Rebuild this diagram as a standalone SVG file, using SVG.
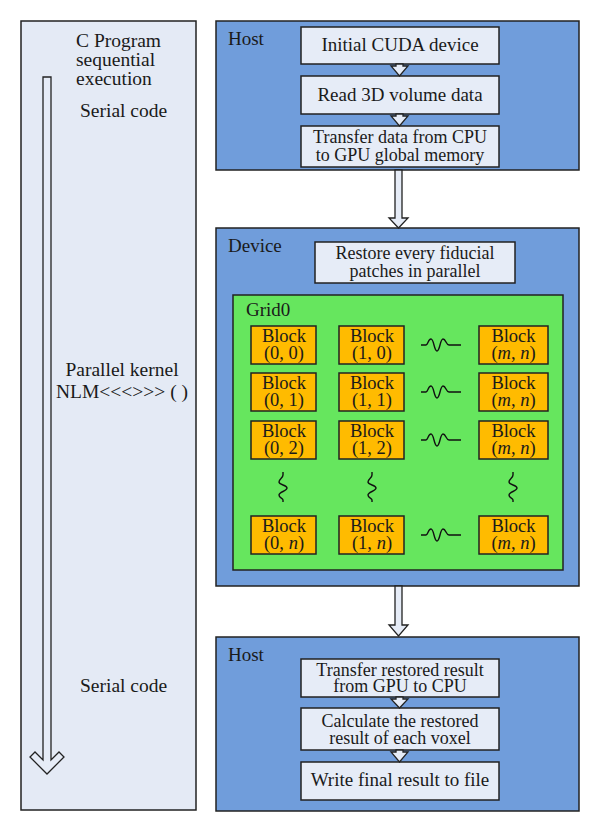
<svg xmlns="http://www.w3.org/2000/svg" width="600" height="832" viewBox="0 0 600 832" font-family="'Liberation Serif', 'DejaVu Serif', serif">
<style>
text{font-family:'Liberation Serif','DejaVu Serif',serif;font-size:19px;fill:#1a1a1a}
.c{text-anchor:middle}
.panel{fill:#e4eaf5;stroke:#222;stroke-width:1.5}
.blue{fill:#709ddb;stroke:#222;stroke-width:1.5}
.box{fill:#e6ecf7;stroke:#222;stroke-width:1.5}
.grid{fill:#66e65e;stroke:#222;stroke-width:1.5}
.blk{fill:#ffbb00;stroke:#222;stroke-width:1.5}
.arr{fill:#e6ecf7;stroke:#222;stroke-width:1.3;stroke-linejoin:miter}
.wave{fill:none;stroke:#111;stroke-width:1.4}
.bt{font-size:18.5px}
.t2{font-size:18px}
.lt{font-size:19.5px}
i{font-style:italic}
</style>
<rect width="600" height="832" fill="#ffffff"/>

<g id="left-panel">
<rect class="panel" x="21" y="21" width="175" height="789"/>
<polygon class="arr" points="43,77 51,77 51,760 59,752 64,757 47,774 30,757 35,752 43,760"/>
<text class="lt" x="76" y="46.5">C Program<tspan x="76" dy="19.5">sequential</tspan><tspan x="76" dy="19">execution</tspan></text>
<text class="lt" x="80" y="117">Serial code</text>
<text class="c lt" x="122" y="376">Parallel kernel<tspan x="122" dy="22">NLM&lt;&lt;&lt;&gt;&gt;&gt; ( )</tspan></text>
<text class="lt" x="80" y="692">Serial code</text>
</g>

<g id="host-top">
<rect class="blue" x="216" y="21" width="363" height="149"/>
<text x="228" y="45">Host</text>
</g>
<g id="initial-cuda">
<rect class="box" x="301" y="27" width="198" height="37"/>
<text class="c" x="400" y="51">Initial CUDA device</text>
</g>
<g id="read-3d">
<rect class="box" x="301" y="76" width="198" height="38"/>
<text class="c" x="400" y="101">Read 3D volume data</text>
</g>
<g id="transfer-cpu-gpu">
<rect class="box" x="301" y="126" width="198" height="41"/>
<text class="c t2" x="400" y="143">Transfer data from CPU<tspan x="400" dy="18">to GPU global memory</tspan></text>
</g>

<g id="device">
<rect class="blue" x="216" y="228" width="363" height="358"/>
<text x="228" y="252">Device</text>
</g>
<g id="restore">
<rect class="box" x="315" y="242" width="200" height="41"/>
<text class="c t2" x="415" y="259">Restore every fiducial<tspan x="415" dy="18">patches in parallel</tspan></text>
</g>
<g id="grid0">
<rect class="grid" x="233" y="295" width="330" height="275"/>
<text x="246" y="316">Grid0</text>
</g>

<g id="block-0-0"><rect class="blk" x="251" y="326" width="65" height="38"/><text class="c bt" x="284" y="342">Block<tspan x="284" dy="17">(0, 0)</tspan></text></g>
<g id="block-1-0"><rect class="blk" x="339" y="326" width="65" height="38"/><text class="c bt" x="372" y="342">Block<tspan x="372" dy="17">(1, 0)</tspan></text></g>
<g id="block-m-n-0"><rect class="blk" x="479" y="326" width="69" height="38"/><text class="c bt" x="513.5" y="342">Block<tspan x="513.5" dy="17">(<tspan font-style="italic">m</tspan>, <tspan font-style="italic">n</tspan>)</tspan></text></g>

<g id="block-0-1"><rect class="blk" x="251" y="373" width="65" height="38"/><text class="c bt" x="284" y="389">Block<tspan x="284" dy="17">(0, 1)</tspan></text></g>
<g id="block-1-1"><rect class="blk" x="339" y="373" width="65" height="38"/><text class="c bt" x="372" y="389">Block<tspan x="372" dy="17">(1, 1)</tspan></text></g>
<g id="block-m-n-1"><rect class="blk" x="479" y="373" width="69" height="38"/><text class="c bt" x="513.5" y="389">Block<tspan x="513.5" dy="17">(<tspan font-style="italic">m</tspan>, <tspan font-style="italic">n</tspan>)</tspan></text></g>

<g id="block-0-2"><rect class="blk" x="251" y="421" width="65" height="38"/><text class="c bt" x="284" y="437">Block<tspan x="284" dy="17">(0, 2)</tspan></text></g>
<g id="block-1-2"><rect class="blk" x="339" y="421" width="65" height="38"/><text class="c bt" x="372" y="437">Block<tspan x="372" dy="17">(1, 2)</tspan></text></g>
<g id="block-m-n-2"><rect class="blk" x="479" y="421" width="69" height="38"/><text class="c bt" x="513.5" y="437">Block<tspan x="513.5" dy="17">(<tspan font-style="italic">m</tspan>, <tspan font-style="italic">n</tspan>)</tspan></text></g>

<g id="block-0-n"><rect class="blk" x="251" y="516" width="65" height="38"/><text class="c bt" x="284" y="532">Block<tspan x="284" dy="17">(0, <tspan font-style="italic">n</tspan>)</tspan></text></g>
<g id="block-1-n"><rect class="blk" x="339" y="516" width="65" height="38"/><text class="c bt" x="372" y="532">Block<tspan x="372" dy="17">(1, <tspan font-style="italic">n</tspan>)</tspan></text></g>
<g id="block-m-n-3"><rect class="blk" x="479" y="516" width="69" height="38"/><text class="c bt" x="513.5" y="532">Block<tspan x="513.5" dy="17">(<tspan font-style="italic">m</tspan>, <tspan font-style="italic">n</tspan>)</tspan></text></g>

<g id="host-bottom">
<rect class="blue" x="216" y="637" width="363" height="174"/>
<text x="228" y="661">Host</text>
</g>
<g id="transfer-gpu-cpu">
<rect class="box" x="301" y="659" width="198" height="38"/>
<text class="c t2" x="400" y="676">Transfer restored result<tspan x="400" dy="16">from GPU to CPU</tspan></text>
</g>
<g id="calculate">
<rect class="box" x="301" y="708" width="198" height="42"/>
<text class="c t2" x="400" y="727">Calculate the restored<tspan x="400" dy="17">result of each voxel</tspan></text>
</g>
<g id="write">
<rect class="box" x="301" y="762" width="198" height="38"/>
<text class="c" x="400" y="786">Write final result to file</text>
</g>

<g id="connectors">
<polygon class="arr" points="396,64 403,64 403,66 408,66 399.5,76 391,66 396,66"/>
<polygon class="arr" points="396,114 403,114 403,116 408,116 399.5,126 391,116 396,116"/>
<polygon class="arr" points="395,170 402,170 402,218 408,218 398.5,228 389,218 395,218"/>
<polygon class="arr" points="395,586 402,586 402,625 408,625 398.5,636 389,625 395,625"/>
<polygon class="arr" points="396,697 403,697 403,699 408,699 399.5,708 391,699 396,699"/>
<polygon class="arr" points="396,750 403,750 403,752 408,752 399.5,762 391,752 396,752"/>
<path class="wave" d="M421,345 H426 C428,345 428,339 431,339 C434,339 434,351 437,351 C440,351 440,339 443,339 C446,339 446,345 449,345 H461"/>
<path class="wave" d="M421,392 H426 C428,392 428,386 431,386 C434,386 434,398 437,398 C440,398 440,386 443,386 C446,386 446,392 449,392 H461"/>
<path class="wave" d="M421,440 H426 C428,440 428,434 431,434 C434,434 434,446 437,446 C440,446 440,434 443,434 C446,434 446,440 449,440 H461"/>
<path class="wave" d="M421,535 H426 C428,535 428,529 431,529 C434,529 434,541 437,541 C440,541 440,529 443,529 C446,529 446,535 449,535 H461"/>
<path class="wave" d="M283,472 V475 C283,478 279,479 279,482 C279,485 287,485 287,488 C287,491 279,492 279,495 C279,498 283,498 283,500 V502"/>
<path class="wave" d="M372,472 V475 C372,478 368,479 368,482 C368,485 376,485 376,488 C376,491 368,492 368,495 C368,498 372,498 372,500 V502"/>
<path class="wave" d="M513,472 V475 C513,478 509,479 509,482 C509,485 517,485 517,488 C517,491 509,492 509,495 C509,498 513,498 513,500 V502"/>
</g>
</svg>
